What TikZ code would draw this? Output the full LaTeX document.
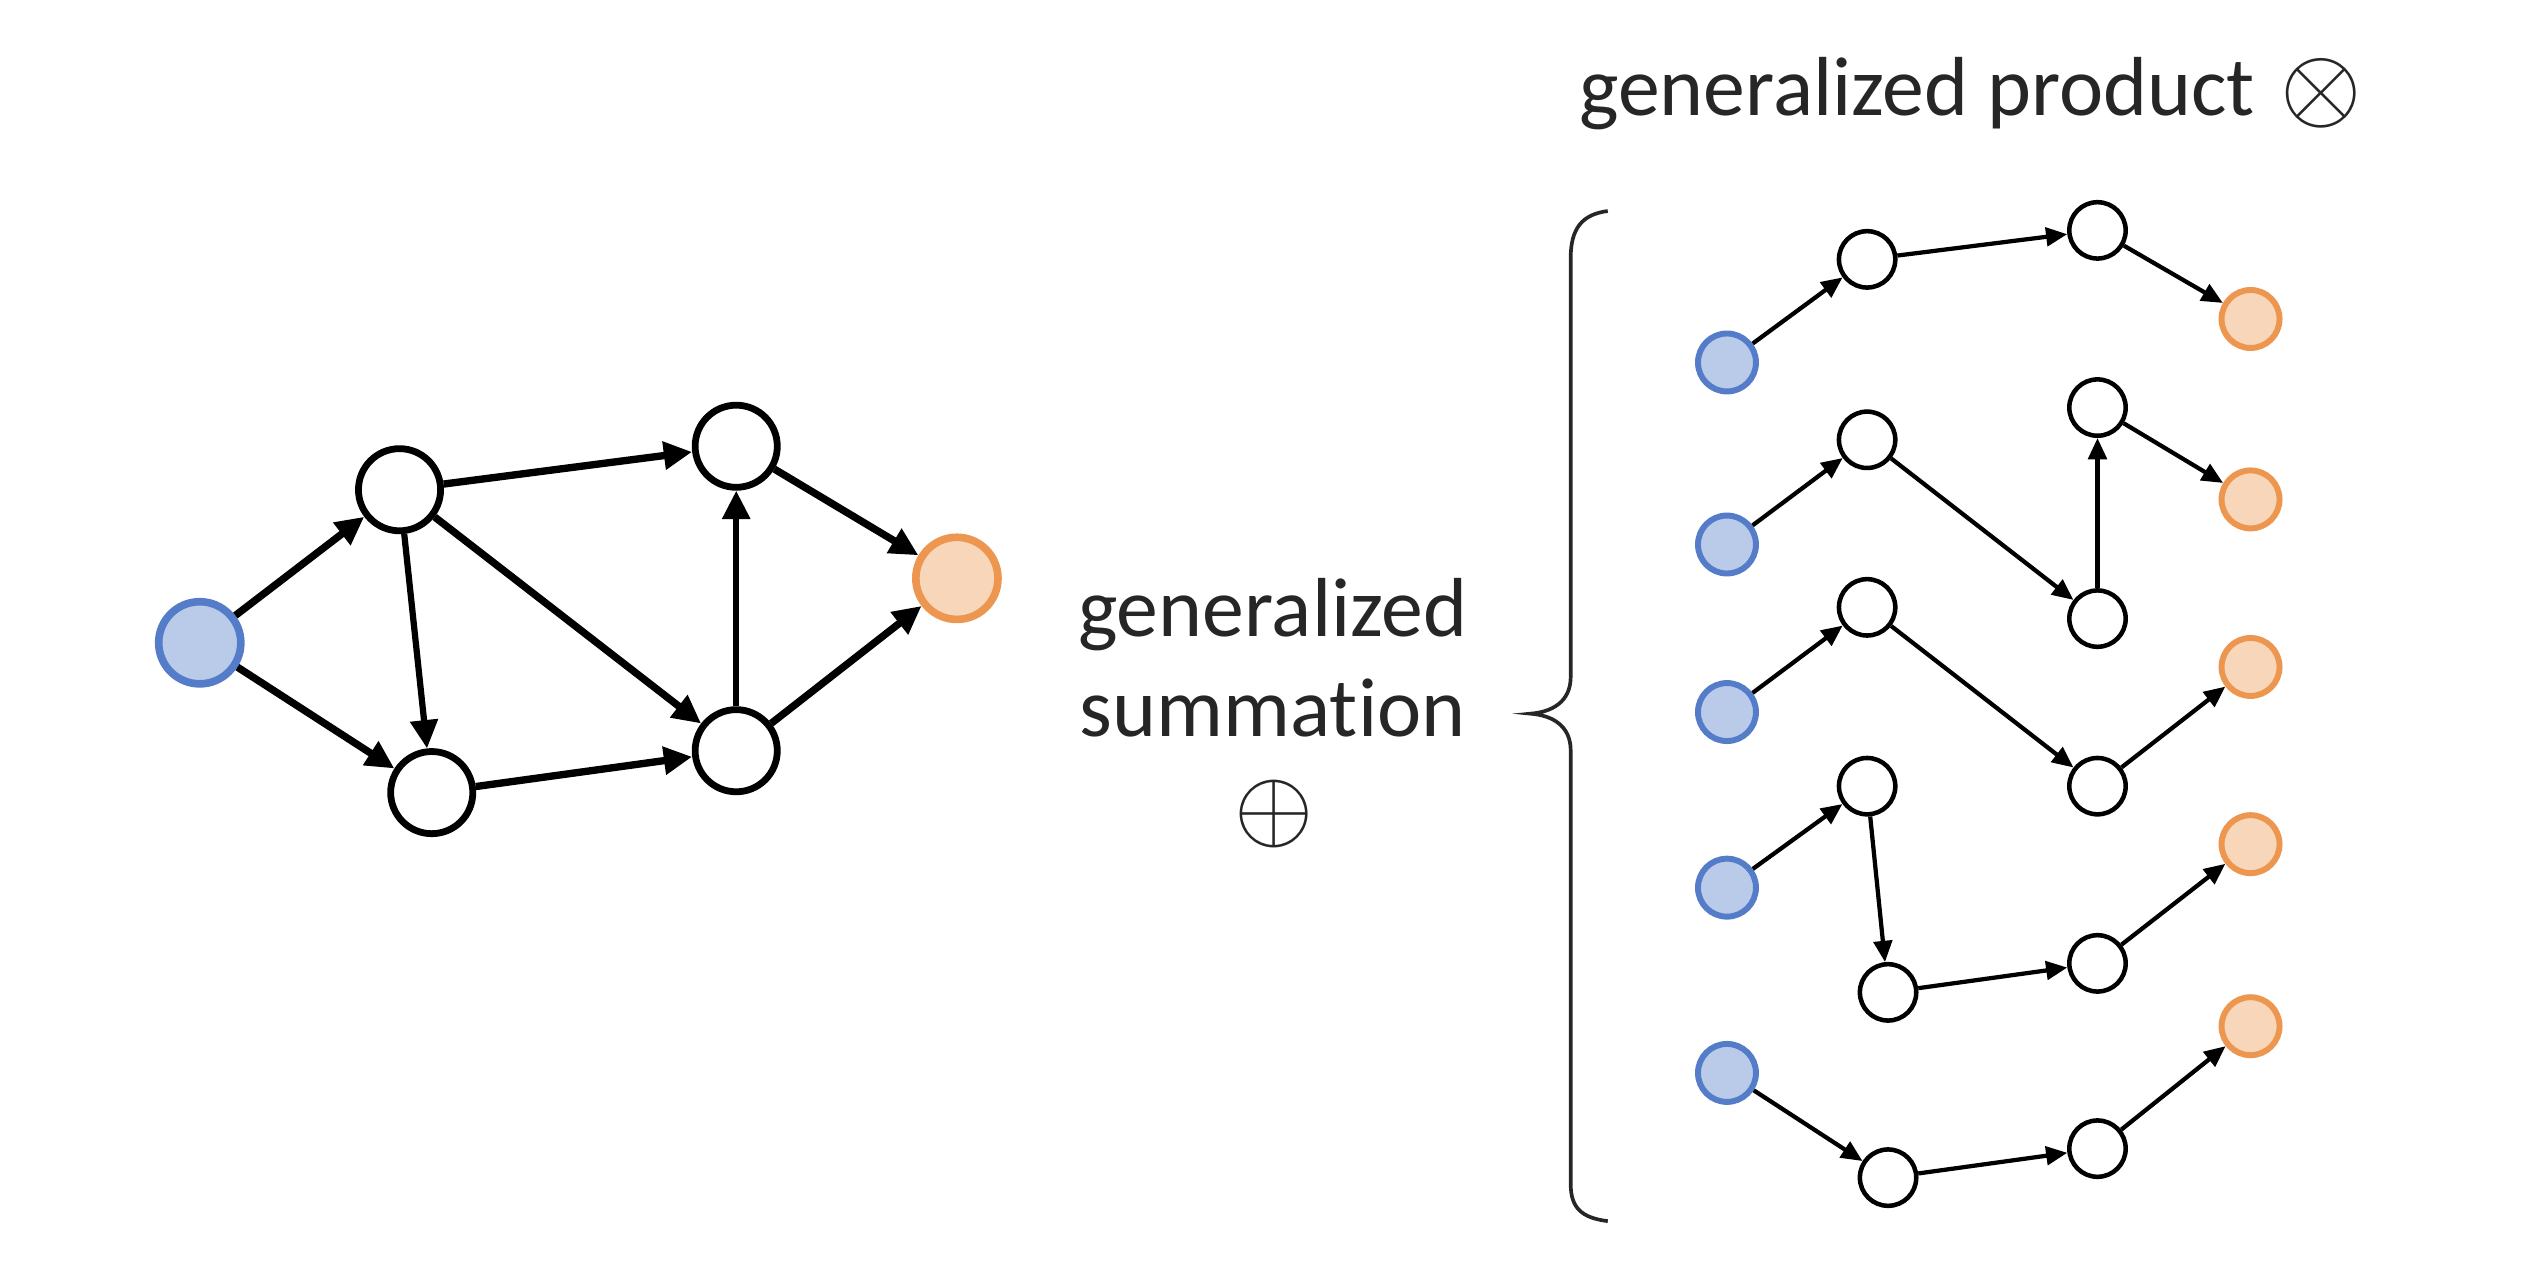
\documentclass[tikz,border=0pt]{standalone}
\usepackage{fontspec}
\usepackage{graphicx}
\setmainfont{Carlito}[Ligatures={NoCommon,NoRare}]
\usetikzlibrary{arrows.meta}
\definecolor{bfill}{RGB}{185,203,233}
\definecolor{bdraw}{RGB}{84,124,200}
\definecolor{ofill}{RGB}{248,214,185}
\definecolor{odraw}{RGB}{236,150,80}
\definecolor{txt}{RGB}{38,38,38}
\begin{document}
\begin{tikzpicture}[x=0.02cm,y=-0.02cm,
  bignode/.style={circle,draw=black,line width=2.4pt,fill=white,minimum size=1.02cm,inner sep=0pt},
  bigsrc/.style={bignode,draw=bdraw,fill=bfill,line width=2.7pt},
  bigtgt/.style={bignode,draw=odraw,fill=ofill,line width=2.7pt},
  bigedge/.style={line width=2.6pt,-{Triangle[length=10pt,width=9.5pt]}},
  bigthin/.style={line width=2.2pt,-{Triangle[length=10pt,width=9.5pt]}},
  smallnode/.style={circle,draw=black,line width=1.6pt,fill=white,minimum size=0.70cm,inner sep=0pt},
  smallsrc/.style={smallnode,draw=bdraw,fill=bfill,line width=2.1pt,minimum size=0.72cm},
  smalltgt/.style={smallnode,draw=odraw,fill=ofill,line width=2.1pt,minimum size=0.72cm},
  smalledge/.style={line width=1.5pt,-{Triangle[length=7.5pt,width=6.5pt]}},
  lbl/.style={font=\fontsize{29.6}{35}\selectfont,text=txt,inner sep=0pt},
  sym/.style={text=txt,inner sep=0pt}
]
\useasboundingbox (0,0) rectangle (1568,783.4);

% left graph
\node[bigsrc] (S) at (124,399) {};
\node[bignode] (A) at (248,304) {};
\node[bignode] (B) at (268,492) {};
\node[bignode] (C) at (457,277) {};
\node[bignode] (D) at (457,466) {};
\node[bigtgt] (T) at (594,359) {};
\draw[bigedge] (S) -- (A);
\draw[bigedge] (S) -- (B);
\draw[bigthin] (A) -- (B);
\draw[bigedge] (A) -- (C);
\draw[bigedge] (A) -- (D);
\draw[bigedge] (B) -- (D);
\draw[bigthin] (D) -- (C);
\draw[bigedge] (C) -- (T);
\draw[bigedge] (D) -- (T);

% middle label
\node[lbl,anchor=base] (sumA) at (790,395) {generalized};
\node[lbl,anchor=base] (sumB) at (790,457) {summation};
\node[sym] (oplus) at (791,505) {\scalebox{3.6}{$\oplus$}};

% top label
\node[lbl,anchor=base west] (prodA) at (980,71.6) {generalized product};
\node[sym] (otimes) at (1441,58) {\scalebox{3.7}{$\otimes$}};

% brace
\draw[line width=1.3pt,txt] (998,131) .. controls (982,133) and (975,142) .. (975,160)
  -- (975,420) .. controls (975,436) and (963,442) .. (950,443)
  .. controls (963,444) and (975,450) .. (975,466)
  -- (975,735) .. controls (975,750) and (982,756) .. (998,758);

% row 1
\node[smallsrc] (r1s) at (1072,225) {};
\node[smallnode] (r1a) at (1159,161) {};
\node[smallnode] (r1b) at (1302,143) {};
\node[smalltgt] (r1t) at (1397,198) {};
\draw[smalledge] (r1s) -- (r1a);
\draw[smalledge] (r1a) -- (r1b);
\draw[smalledge] (r1b) -- (r1t);

% row 2
\node[smallsrc] (r2s) at (1072,338) {};
\node[smallnode] (r2a) at (1159,273) {};
\node[smallnode] (r2b) at (1302,384) {};
\node[smallnode] (r2c) at (1302,253) {};
\node[smalltgt] (r2t) at (1397,310) {};
\draw[smalledge] (r2s) -- (r2a);
\draw[smalledge] (r2a) -- (r2b);
\draw[smalledge] (r2b) -- (r2c);
\draw[smalledge] (r2c) -- (r2t);

% row 3
\node[smallsrc] (r3s) at (1072,442) {};
\node[smallnode] (r3a) at (1159,377) {};
\node[smallnode] (r3b) at (1302,488) {};
\node[smalltgt] (r3t) at (1397,414) {};
\draw[smalledge] (r3s) -- (r3a);
\draw[smalledge] (r3a) -- (r3b);
\draw[smalledge] (r3b) -- (r3t);

% row 4
\node[smallsrc] (r4s) at (1072,551) {};
\node[smallnode] (r4a) at (1159,488) {};
\node[smallnode] (r4b) at (1172,616) {};
\node[smallnode] (r4c) at (1302,598) {};
\node[smalltgt] (r4t) at (1397,524) {};
\draw[smalledge] (r4s) -- (r4a);
\draw[smalledge] (r4a) -- (r4b);
\draw[smalledge] (r4b) -- (r4c);
\draw[smalledge] (r4c) -- (r4t);

% row 5
\node[smallsrc] (r5s) at (1072,666) {};
\node[smallnode] (r5a) at (1172,731) {};
\node[smallnode] (r5b) at (1302,713) {};
\node[smalltgt] (r5t) at (1397,637) {};
\draw[smalledge] (r5s) -- (r5a);
\draw[smalledge] (r5a) -- (r5b);
\draw[smalledge] (r5b) -- (r5t);
\end{tikzpicture}
\end{document}
